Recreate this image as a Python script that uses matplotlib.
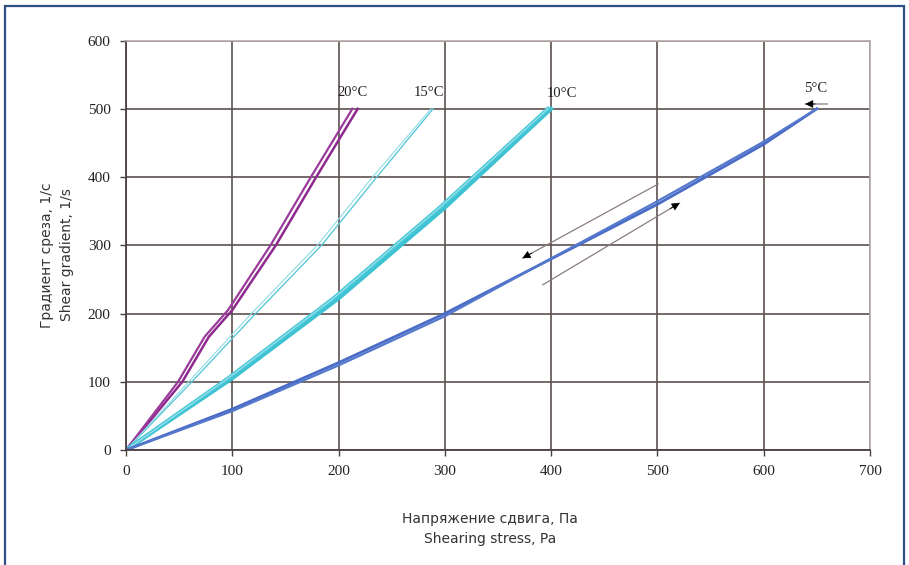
import numpy as np
import matplotlib.pyplot as plt
from matplotlib.patches import Rectangle

# flow curves (load / unload)
x20_up = [0, 53, 78, 100, 141, 179, 218]
y20_up = [0, 100, 166, 205, 300, 400, 500]
x20_dn = [0, 49, 74, 96, 136, 174, 213]
y20_dn = [0, 100, 166, 205, 300, 400, 500]

x15_up = [0, 62, 122, 184, 236, 289]
y15_up = [0, 100, 200, 300, 400, 500]
x15_dn = [0, 59, 118, 180, 232, 287]
y15_dn = [0, 100, 200, 300, 400, 500]

x10_up = [0, 100, 200, 300, 400]
y10_up = [0, 105, 222, 355, 500]
x10_dn = [0, 96, 195, 295, 397]
y10_dn = [0, 105, 222, 355, 500]

x5_up = [0, 100, 200, 300, 400, 500, 600, 650]
y5_up = [0, 60, 128, 200, 280, 360, 448, 500]
x5_dn = [0, 100, 200, 300, 398, 497, 598, 650]
y5_dn = [0, 57, 124, 196, 279, 362, 450, 500]

labels = ['20°C', '15°C', '10°C', '5°C']
label_x = [213, 285, 410, 649]
label_y = [524, 524, 522, 530]

# direction arrows: (tail, head)
arrows = [((501, 390), (373, 281)),
          ((392, 242), (521, 362)),
          ((660, 507), (639, 507))]

fig = plt.figure(figsize=(9.09, 5.65), dpi=100)
fig.patches.append(Rectangle((5/909, -0.05), 899/909, 1.05 - 6/565, transform=fig.transFigure,
                             fill=False, edgecolor='#2c4f86', lw=1.6))

ax = fig.add_axes([0.1386, 0.2035, 0.8185, 0.7248])

grid_c = '#5e5050'
ax.grid(True, color=grid_c, lw=1.2)
ax.set_axisbelow(True)
ax.set_xlim(0, 700)
ax.set_ylim(0, 600)
ax.set_xticks(np.arange(0, 701, 100))
ax.set_yticks(np.arange(0, 601, 100))
for s in ['left', 'bottom']:
    ax.spines[s].set_color('#4a4040')
    ax.spines[s].set_linewidth(1.3)
for s in ['top', 'right']:
    ax.spines[s].set_color('#b8aaaa')
    ax.spines[s].set_linewidth(1.2)
ax.tick_params(direction='out', length=4, width=1, colors='#4a4040', pad=7)
for lab in ax.get_xticklabels() + ax.get_yticklabels():
    lab.set_family('Liberation Serif')
    lab.set_fontsize(11)
    lab.set_color('#222222')

ax.plot(x20_up, y20_up, color='#8e2a8e', lw=1.8)
ax.plot(x20_dn, y20_dn, color='#9a3a9a', lw=1.6)
ax.plot(x15_up, y15_up, color='#5cc8d8', lw=1.0)
ax.plot(x15_dn, y15_dn, color='#8fdbe5', lw=0.8)
ax.plot(x10_up, y10_up, color='#3cc2d2', lw=2.8)
ax.plot(x10_dn, y10_dn, color='#4cc8d8', lw=2.8)
ax.plot(x10_dn, y10_up, color='#b5eaf0', lw=0.6)
ax.plot(x5_up, y5_up, color='#4a6cc6', lw=2.0)
ax.plot(x5_dn, y5_dn, color='#5478cc', lw=1.6)

for t, lx, ly in zip(labels, label_x, label_y):
    ax.text(lx, ly, t, family='Liberation Serif', fontsize=10.5, color='#222222',
            ha='center', va='center')

for (tx, ty), (hx, hy) in arrows:
    ax.annotate('', xy=(hx, hy), xytext=(tx, ty),
                arrowprops=dict(arrowstyle='-', color='#8a7c7c', lw=0.9, shrinkA=0, shrinkB=0))
    # black head only
    f = 0.07 if abs(tx - hx) > 50 else 0.45
    bx = hx + (tx - hx) * f
    by = hy + (ty - hy) * f
    ax.annotate('', xy=(hx, hy), xytext=(bx, by),
                arrowprops=dict(arrowstyle='-|>', color='black', lw=0.6, mutation_scale=12,
                                shrinkA=0, shrinkB=0))

fig.text(490/909, 1 - 529/565, 'Напряжение сдвига, Па\nShearing stress, Pa',
         ha='center', va='center', fontsize=10, color='#333333', linespacing=1.5)
fig.text(57/909, 1 - 255/565, 'Градиент среза, 1/с\nShear gradient, 1/s',
         ha='center', va='center', rotation=90, fontsize=10, color='#333333', linespacing=1.5)

plt.savefig('out.png', dpi=100)
